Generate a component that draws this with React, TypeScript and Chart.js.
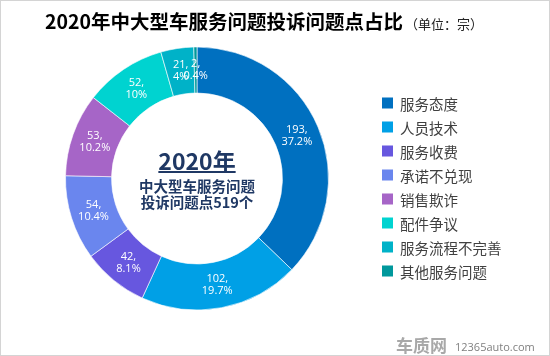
import React, { useEffect, useRef } from "react";
import { Chart, registerables } from "chart.js";

Chart.register(...registerables);

const TITLE = "2020年中大型车服务问题投诉问题点占比";
const UNIT = "（单位：宗）";
const categories = ["服务态度", "人员技术", "服务收费", "承诺不兑现", "销售欺诈", "配件争议", "服务流程不完善", "其他服务问题"];
const counts = [193, 102, 42, 54, 53, 52, 21, 2];
const colors = ["#0070C0", "#00A0E6", "#6757DF", "#6A86EE", "#A665C7", "#00D3D0", "#00B2C8", "#00989C"];
const centerLines = ["2020年", "中大型车服务问题", "投诉问题点519个"];

const total = counts.reduce((a, b) => a + b, 0);
const pctText = (v: number) => {
  let s = ((v / total) * 100).toFixed(1);
  if (s.endsWith(".0")) s = s.slice(0, -2);
  return s + "%";
};

const decorPlugin = {
  id: "decor",
  beforeDraw(chart: any) {
    const { ctx, width, height } = chart;
    ctx.save();
    ctx.fillStyle = "#ffffff";
    ctx.fillRect(0, 0, width, height);
    ctx.strokeStyle = "#D4D4D4";
    ctx.lineWidth = 1;
    ctx.strokeRect(0.5, 0.5, width - 1, height - 1);
    // title
    ctx.textBaseline = "middle";
    ctx.textAlign = "left";
    ctx.fillStyle = "#000000";
    ctx.font = "bold 19.5px 'Noto Sans CJK SC', sans-serif";
    ctx.fillText(TITLE, 45, 22);
    const tw = ctx.measureText(TITLE).width;
    ctx.font = "13px 'Noto Sans CJK SC', sans-serif";
    ctx.fillStyle = "#222222";
    ctx.fillText(UNIT, 45 + tw + 2, 24);
    ctx.restore();
  },
  afterDatasetsDraw(chart: any) {
    const { ctx } = chart;
    const meta = chart.getDatasetMeta(0);
    ctx.save();
    // slice labels
    ctx.fillStyle = "#ffffff";
    ctx.font = "11px 'Open Sans', sans-serif";
    ctx.textAlign = "center";
    ctx.textBaseline = "middle";
    meta.data.forEach((arc: any, i: number) => {
      const p = arc.tooltipPosition();
      ctx.fillText(counts[i] + ",", p.x, p.y - 6);
      ctx.fillText(pctText(counts[i]), p.x, p.y + 6);
    });
    // center text
    const a0 = meta.data[0];
    const cx = a0.x;
    const cy = a0.y;
    ctx.fillStyle = "#1F3864";
    ctx.font = "bold 23px 'Noto Sans CJK SC', sans-serif";
    ctx.fillText(centerLines[0], cx, cy - 17);
    const w0 = ctx.measureText(centerLines[0]).width;
    ctx.fillRect(cx - w0 / 2, cy - 7.5, w0, 2);
    ctx.font = "bold 14.5px 'Noto Sans CJK SC', sans-serif";
    ctx.fillText(centerLines[1], cx, cy + 8);
    ctx.fillText(centerLines[2], cx, cy + 24);
    // legend
    ctx.textAlign = "left";
    ctx.font = "14.5px 'Noto Sans CJK SC', sans-serif";
    categories.forEach((c, i) => {
      const y = 103 + i * 24;
      ctx.fillStyle = colors[i];
      ctx.fillRect(382, y - 5.5, 11, 11);
      ctx.fillStyle = "#404040";
      ctx.fillText(c, 400, y + 1);
    });
    // watermark
    ctx.fillStyle = "#A8A8A8";
    ctx.font = "bold 17px 'Noto Sans CJK SC', sans-serif";
    ctx.textBaseline = "middle";
    ctx.fillText("车质网", 396, 346);
    ctx.fillStyle = "#808080";
    ctx.font = "11px 'Open Sans', sans-serif";
    ctx.fillText("12365auto.com", 455, 348);
    ctx.restore();
  },
};

export default function App() {
  const ref = useRef<HTMLCanvasElement | null>(null);
  useEffect(() => {
    if (!ref.current) return;
    const chart = new Chart(ref.current, {
      type: "doughnut",
      data: {
        labels: categories,
        datasets: [
          {
            data: counts,
            backgroundColor: colors,
            borderColor: "rgba(255,255,255,0.6)",
            borderWidth: 1,
          },
        ],
      },
      options: {
        responsive: false,
        animation: false,
        cutout: "65%",
        layout: { padding: { left: 65, top: 46, right: 221, bottom: 45 } },
        plugins: {
          legend: { display: false },
          title: { display: false },
          tooltip: { enabled: false },
        },
      },
      plugins: [decorPlugin],
    });
    return () => chart.destroy();
  }, []);
  return (
    <div style={{ position: "fixed", left: 0, top: 0, width: 550, height: 356 }}>
      <canvas ref={ref} width={550} height={356} style={{ width: 550, height: 356, display: "block" }} />
    </div>
  );
}
